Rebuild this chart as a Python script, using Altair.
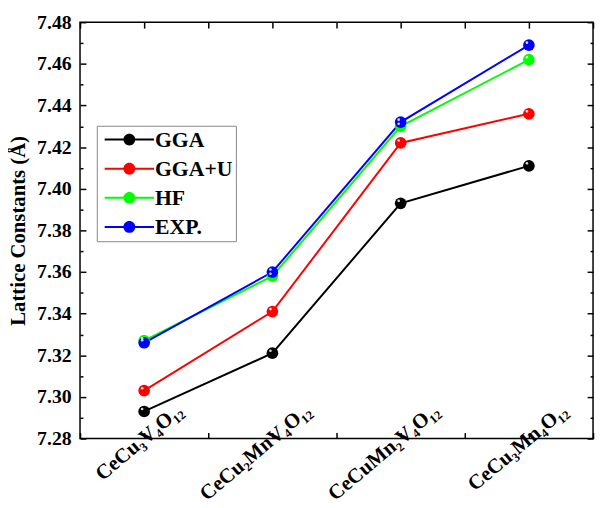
import altair as alt
import pandas as pd

# ---- data ----
compounds = ["CeCu₃V₄O₁₂", "CeCu₂MnV₄O₁₂", "CeCuMn₂V₄O₁₂", "CeCu₃Mn₄O₁₂"]
positions = [1, 2, 3, 4]
series_names = ["GGA", "GGA+U", "HF", "EXP."]
series_colors = ["#000000", "#ff0000", "#00ff00", "#0000ff"]
gga = [7.293, 7.321, 7.393, 7.411]
gga_u = [7.303, 7.341, 7.422, 7.436]
hf = [7.327, 7.358, 7.430, 7.462]
exp_vals = [7.326, 7.360, 7.432, 7.469]
y_major = [7.28, 7.30, 7.32, 7.34, 7.36, 7.38, 7.40, 7.42, 7.44, 7.46, 7.48]
y_minor = [7.29, 7.31, 7.33, 7.35, 7.37, 7.39, 7.41, 7.43, 7.45, 7.47]
x_ticks = [0.5, 1, 1.5, 2, 2.5, 3, 3.5, 4, 4.5]

series_values = [gga, gga_u, hf, exp_vals]
rows = []
for name, vals in zip(series_names, series_values):
    for p, c, v in zip(positions, compounds, vals):
        rows.append({"pos": p, "compound": c, "series": name, "value": v})
df = pd.DataFrame(rows)

FONT = "Liberation Serif"
label_expr = "[" + ",".join("'" + c + "'" for c in compounds) + "][datum.value - 1] || ''"

x_scale = alt.Scale(domain=[0.5, 4.5], nice=False, zero=False)
y_scale = alt.Scale(domain=[7.28, 7.48], nice=False, zero=False)
color_scale = alt.Scale(domain=series_names, range=series_colors)

common_legend = dict(
    title=None, orient="none", legendX=17, legendY=105,
    symbolSize=144, symbolOpacity=1, symbolOffset=19,
    labelFont=FONT, labelFontSize=22, labelFontWeight="bold",
    labelOffset=15, padding=3, rowPadding=7.5,
)
line_legend = alt.Legend(
    symbolType="M-4.17,0L4.17,0", symbolStrokeWidth=2,
    labelColor="black", strokeColor="#888888", fillColor="white",
    **common_legend,
)
ball_legend = alt.Legend(
    symbolType="M1,0A1,1,0,1,1,-1,0A1,1,0,1,1,1,0Z", symbolStrokeWidth=0,
    labelColor="black", labelOpacity=0,
    **common_legend,
)

base = alt.Chart(df)

lines = base.mark_line(strokeWidth=2).encode(
    x=alt.X("pos:Q", scale=x_scale, axis=alt.Axis(
        orient="bottom", values=x_ticks, labelExpr=label_expr, labelAngle=-40,
        labelAlign="right", labelBaseline="middle", labelOffset=36,
        labelPadding=-25, tickSize={"expr": "-6"}, title=None,
        labelFontSize=21, labelOverlap=False, labelFlush=False)),
    y=alt.Y("value:Q", scale=y_scale, axis=alt.Axis(
        orient="left", values=y_major, format=".2f",
        title="Lattice Constants (Å)", tickSize={"expr": "-6"},
        labelPadding=15, titlePadding=8, titleFontSize=21,
        labelOverlap=False, labelFlush=False)),
    stroke=alt.Stroke("series:N", scale=color_scale, legend=line_legend),
)

points = base.mark_point(filled=True, size=140, opacity=1).encode(
    x=alt.X("pos:Q", scale=x_scale, axis=None),
    y=alt.Y("value:Q", scale=y_scale, axis=None),
    fill=alt.Fill("series:N", scale=color_scale, legend=ball_legend),
)

highlight = base.mark_point(filled=True, color="white", size=7, opacity=0.85,
                            xOffset=-2, yOffset=-2.5).encode(
    x=alt.X("pos:Q", scale=x_scale, axis=None),
    y=alt.Y("value:Q", scale=y_scale, axis=None),
)

mirror = base.mark_point(opacity=0).encode(
    x=alt.X("pos:Q", scale=x_scale, axis=alt.Axis(
        orient="top", values=x_ticks, labels=False, title=None,
        tickSize={"expr": "-6"})),
    y=alt.Y("value:Q", scale=y_scale, axis=alt.Axis(
        orient="right", values=y_major, labels=False, title=None,
        tickSize={"expr": "-6"})),
)

minor_left = base.mark_point(opacity=0).encode(
    x=alt.X("pos:Q", scale=x_scale, axis=None),
    y=alt.Y("value:Q", scale=y_scale, axis=alt.Axis(
        orient="left", values=y_minor, labels=False, title=None,
        tickSize={"expr": "-3"})),
)

minor_right = base.mark_point(opacity=0).encode(
    x=alt.X("pos:Q", scale=x_scale, axis=None),
    y=alt.Y("value:Q", scale=y_scale, axis=alt.Axis(
        orient="right", values=y_minor, labels=False, title=None,
        tickSize={"expr": "-3"})),
)

chart = alt.layer(lines, points, highlight, mirror, minor_left, minor_right).resolve_axis(
    x="independent", y="independent"
).resolve_legend(
    fill="independent", stroke="independent"
).properties(
    width=520, height=422,
    padding={"left": 73, "top": 11, "right": 3, "bottom": 66},
    autosize=alt.AutoSizeParams(type="none"),
).configure_view(
    stroke="black", strokeWidth=1.5
).configure_axis(
    grid=False, domain=False, tickColor="black", tickWidth=1.5,
    labelFont=FONT, labelFontSize=20, labelFontWeight="bold", labelColor="black",
    titleFont=FONT, titleFontSize=20, titleFontWeight="bold", titleColor="black",
)

chart.save("out.html", embed_options={"renderer": "svg", "actions": False})
